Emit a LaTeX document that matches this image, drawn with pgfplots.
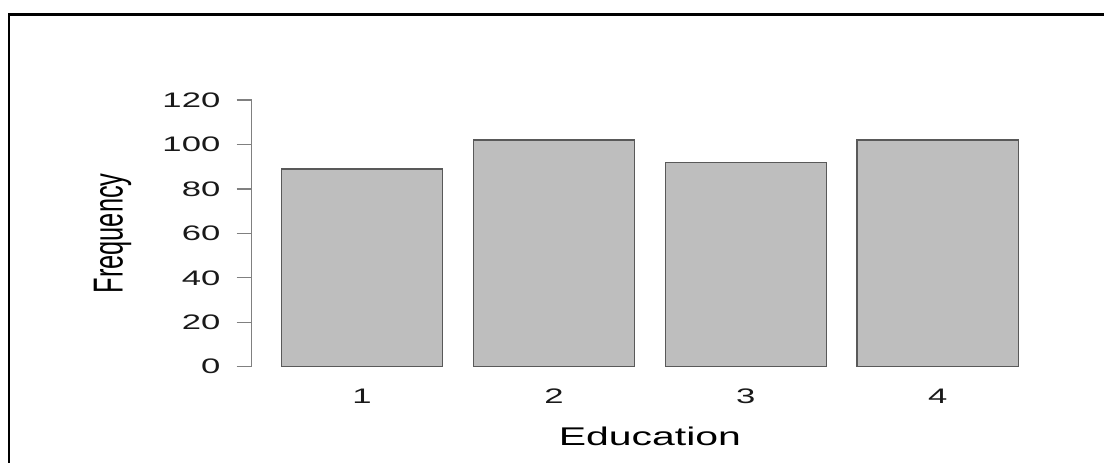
\documentclass[border=0pt]{standalone}
\usepackage{graphicx}
\usepackage{fontspec}
\setmainfont{Liberation Sans}
\usepackage{pgfplots}
\pgfplotsset{compat=1.18}
\definecolor{bargray}{RGB}{190,190,190}
\newcommand{\sx}[1]{\scalebox{1.65}[1]{#1}}
\begin{document}
\begin{tikzpicture}
\useasboundingbox (0,0) rectangle (552pt,231pt);
\draw[line width=1.15pt] (4.5pt,-2pt) -- (4.5pt,223.75pt) -- (553pt,223.75pt);
\begin{axis}[
  at={(125.85pt,42.3pt)}, anchor=south west,
  scale only axis, width=398.2pt, height=144pt,
  xmin=0.425, xmax=4.575, ymin=-4.8, ymax=124.8,
  axis x line*=bottom, axis y line*=left,
  axis line style={draw=none},
  ybar, bar width=0.84,
  xtick={1,2,3,4}, xticklabels={\sx{1},\sx{2},\sx{3},\sx{4}},
  ytick={0,20,40,60,80,100,120},
  yticklabels={\sx{0},\sx{20},\sx{40},\sx{60},\sx{80},\sx{100},\sx{120}},
  tick align=outside, major tick length=7.5pt,
  ytick style={draw=black!50, line width=0.6pt},
  xtick style={draw=none},
  ticklabel style={font=\fontsize{10.5}{12}\selectfont, text=black!90},
  yticklabel style={anchor=east, inner sep=0pt, xshift=-8pt},
  xticklabel style={anchor=base, inner sep=0pt, yshift=-5.3pt},
  xlabel={\scalebox{1.6}[1]{Education}},
  ylabel={\scalebox{1}[1.65]{Frequency}},
  every axis x label/.style={at={(axis description cs:0.5,0)}, anchor=base, yshift=-33.8pt, font=\fontsize{12.8}{15}\selectfont},
  every axis y label/.style={at={(axis description cs:-0.1748,0.5)}, rotate=90, anchor=center, font=\fontsize{12.7}{15}\selectfont},
  clip=false,
]
\addplot[fill=bargray, draw=black!65, line width=0.7pt] coordinates {(1,89) (2,102) (3,92) (4,102)};
\draw[black!50, line width=0.6pt] (axis cs:0.425,0) -- (axis cs:0.425,120);
\end{axis}
\end{tikzpicture}
\end{document}
